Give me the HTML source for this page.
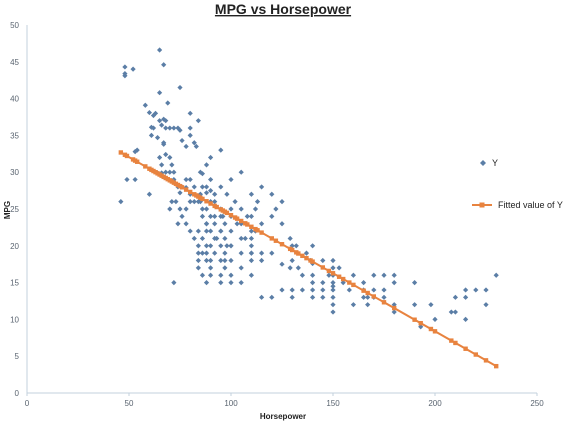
<!DOCTYPE html>
<html><head><meta charset="utf-8"><style>
body{margin:0;background:#fff;font-family:"Liberation Sans",sans-serif}
svg{display:block}
</style></head><body>
<svg id="chart" width="566" height="422">
<text x="283" y="14" text-anchor="middle" font-size="14" font-weight="bold" text-decoration="underline" fill="#222">MPG vs Horsepower</text>
<text transform="translate(10,210) rotate(-90)" text-anchor="middle" font-size="8" font-weight="bold" fill="#222">MPG</text>
<text x="283" y="419" text-anchor="middle" font-size="8" font-weight="bold" fill="#222">Horsepower</text>
<g id="axes"></g><g id="pts"></g><g id="fit"></g>
<g>
<path d="M483 160 L486 163 L483 166 L480 163 Z" fill="#5b7ea6"/>
<text x="492" y="166" font-size="9" fill="#222">Y</text>
<line x1="472" y1="205" x2="492" y2="205" stroke="#e8833f" stroke-width="2"/>
<rect x="479.5" y="202.5" width="5" height="5" fill="#e8833f"/>
<text x="498" y="208" font-size="9" fill="#222">Fitted value of Y</text>
</g>
</svg>
<script>
const xTicks=[0,50,100,150,200,250];
const yTicks=[0,5,10,15,20,25,30,35,40,45,50];
const hp=[46,48,48,48,52,49,53,53,54,58,60,61,62,63,65,67,65,67,68,69,70,60,65,66,67,68,65,62,61,64,66,67,68,70,71,72,75,75,72,74,76,78,80,80,80,82,84,83,86,90,95,88,78,80,64,66,68,70,72,74,76,78,80,82,84,86,88,90,92,75,73,71,70,75,78,80,82,85,88,90,95,100,96,
84,84,84,84,84,86,86,86,86,88,88,88,88,88,88,90,90,90,90,90,90,92,92,92,95,95,95,95,95,97,97,97,97,100,100,100,100,100,105,105,105,105,110,110,110,110,
85,85,88,90,92,95,98,100,102,105,105,108,110,112,113,115,115,120,120,122,125,125,78,80,82,76,74,86,88,92,95,97,
110,110,110,115,115,120,125,130,130,129,135,140,140,140,140,145,150,150,150,150,150,150,150,150,155,158,160,160,165,165,167,170,170,175,175,175,180,180,180,180,190,190,193,198,200,208,210,210,215,215,215,220,225,225,230,110,105,100,95,72,115,120,130,125,130,135,140,145,145,150,165,167,170,139,137,133,148,153,140,145,129,132,112,107,103,100,93,98];
const mpg=[26,43.4,43.1,44.3,44,29,29,32.8,33,39.1,38.1,36.1,37.7,38,46.6,44.6,40.8,37.2,36,39.4,36,27,32,31,34,37,37,36,35,34.7,36.4,33.8,32.4,32,31,30,41.5,35.7,36,36,34.3,33.5,38,36,35,34,37,33.5,29.8,32,33,27.2,29,29,29.9,29.9,30,30,29,28,28,27.9,27,28,26,28,28,27.5,27,27.2,26,26,25,25,25,26,26,26,25,26,25,25,24,
22,20,19,18,17,24,21,19,16,23,22,20,19,18,15,24,22,20,18,17,16,23,21,19,24,22,20,18,16,21,19,18,17,24,22,20,18,16,23,21,19,17,24,21,19,18,
27,30,31,29,26,28,27,29,26,25,30,24,27,25,26,28,23,24,27,25,23,26,23,22,21,24,23,25,23,24,22,23,
22,20,19,19,18,19,17.5,20,18,17,16,17.6,16,15,14,13,14,15,16,17,18,13,11,12,15,14,16,12,14,15,12,16,14,13,16,14,15,16,12,11,15,12,9,12,10,11,11,13,14,13,10,14,14,12,16,16,15,15,15,15,13,13,13,14,14,14,13,14,15,14.5,13,13,13,18,19,17,16,17,20,18,21,20,22,21,23,20,21,20];
const fitIntercept=39.94, fitSlope=-0.1578;
const NS='http://www.w3.org/2000/svg';
const X=v=>27+v*(510/250), Y=v=>393-v*(368/50);
function mk(tag,attrs,parent){const e=document.createElementNS(NS,tag);for(const k in attrs)e.setAttribute(k,attrs[k]);parent.appendChild(e);return e;}
const axes=document.getElementById('axes');
let l=mk('line',{x1:X(0),y1:Y(0),x2:X(250),y2:Y(0),stroke:'#c3d0dc','stroke-width':1},axes);


l=mk('line',{x1:X(0),y1:Y(0),x2:X(0),y2:Y(50),stroke:'#c3d0dc','stroke-width':1},axes);


xTicks.forEach(t=>{const e=mk('text',{x:X(t),y:Y(0)+13,'text-anchor':'middle','font-size':8,fill:'#5a6470'},axes);e.textContent=t;


const tk=mk('line',{x1:X(t),y1:Y(0),x2:X(t),y2:Y(0)+3,stroke:'#c3d0dc'},axes);

});
yTicks.forEach(t=>{const e=mk('text',{x:X(0)-8,y:Y(t)+3,'text-anchor':'end','font-size':8,fill:'#5a6470'},axes);e.textContent=t;

});
const pts=document.getElementById('pts');
hp.forEach((h,i)=>{const x=X(h),y=Y(mpg[i]);
const p=mk('path',{d:`M${x} ${y-2.6}L${x+2.6} ${y}L${x} ${y+2.6}L${x-2.6} ${y}Z`,fill:'#5b7ea6'},pts);

});
const fit=document.getElementById('fit');
const uh=[...new Set(hp)].sort((a,b)=>a-b);
const ln=mk('line',{x1:X(uh[0]),y1:Y(fitIntercept+fitSlope*uh[0]),x2:X(uh[uh.length-1]),y2:Y(fitIntercept+fitSlope*uh[uh.length-1]),stroke:'#e8833f','stroke-width':2},fit);


uh.forEach(h=>{const r=mk('rect',{x:X(h)-2.2,y:Y(fitIntercept+fitSlope*h)-2.2,width:4.4,height:4.4,fill:'#e8833f'},fit);

});
</script>
</body></html>
